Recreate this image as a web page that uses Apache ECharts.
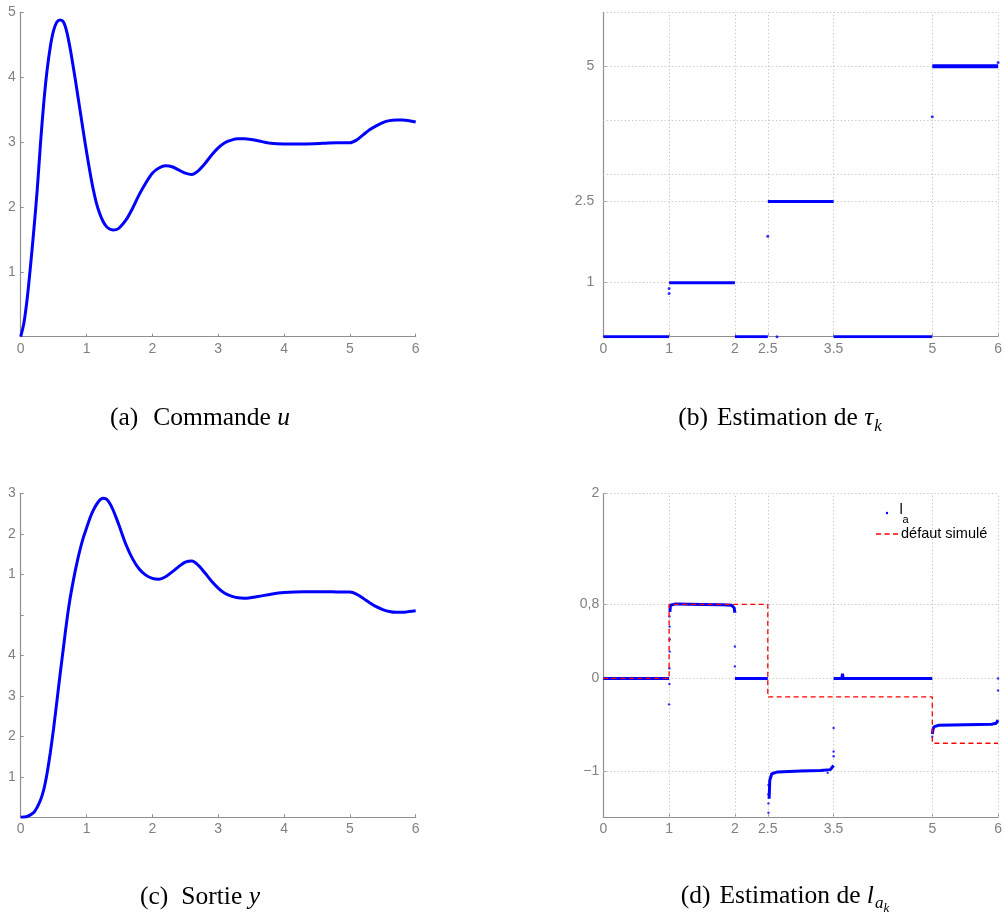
<!DOCTYPE html>
<html>
<head>
<meta charset="utf-8">
<script src="https://cdn.jsdelivr.net/npm/echarts@6/dist/echarts.min.js"></script>
<style>
html, body { margin: 0; padding: 0; background: #fff; }
#main { width: 1005px; height: 918px; }
</style>
</head>
<body>
<div id="main"></div>
<script>
// ---- (a) control signal u(t) ----
const uTime  = [0, 0.05, 0.1, 0.15, 0.2, 0.25, 0.3, 0.35, 0.4, 0.45, 0.5, 0.55, 0.6, 0.65, 0.7, 0.75, 0.8, 0.85, 0.9, 0.95, 1.0, 1.05, 1.1, 1.15, 1.2, 1.25, 1.3, 1.35, 1.4, 1.45, 1.5, 1.6, 1.7, 1.8, 1.9, 2.0, 2.1, 2.2, 2.3, 2.4, 2.5, 2.6, 2.7, 2.8, 2.9, 3.0, 3.1, 3.2, 3.3, 3.4, 3.5, 3.6, 3.8, 4.0, 4.3, 4.6, 4.8, 5.0, 5.1, 5.2, 5.3, 5.4, 5.5, 5.6, 5.7, 5.8, 5.9, 6.0];
const uValue = [0, 0.22, 0.6, 1.1, 1.65, 2.25, 2.97, 3.6, 4.1, 4.47, 4.72, 4.85, 4.88, 4.85, 4.7, 4.45, 4.15, 3.83, 3.5, 3.17, 2.85, 2.55, 2.28, 2.06, 1.9, 1.78, 1.7, 1.66, 1.645, 1.65, 1.68, 1.8, 1.98, 2.19, 2.37, 2.52, 2.6, 2.635, 2.62, 2.57, 2.52, 2.5, 2.56, 2.67, 2.8, 2.91, 2.99, 3.03, 3.05, 3.05, 3.04, 3.02, 2.98, 2.97, 2.97, 2.98, 2.99, 2.99, 3.03, 3.11, 3.19, 3.25, 3.3, 3.33, 3.34, 3.34, 3.33, 3.31];
const uTicksY = [0, 1, 2, 3, 4, 5];
const uTickLabelsY = ['', '1', '2', '3', '4', '5'];

// ---- (c) plant output y(t) ----
const yTime  = [0, 0.1, 0.2, 0.25, 0.3, 0.35, 0.4, 0.45, 0.5, 0.55, 0.6, 0.65, 0.7, 0.75, 0.8, 0.85, 0.9, 0.95, 1.0, 1.05, 1.1, 1.15, 1.2, 1.25, 1.3, 1.35, 1.4, 1.45, 1.5, 1.6, 1.7, 1.8, 1.9, 2.0, 2.1, 2.2, 2.3, 2.4, 2.5, 2.6, 2.7, 2.8, 2.9, 3.0, 3.1, 3.2, 3.3, 3.4, 3.6, 3.8, 4.0, 4.3, 4.6, 4.8, 5.0, 5.1, 5.2, 5.3, 5.4, 5.5, 5.6, 5.7, 5.8, 5.9, 6.0];
const yValue = [0, 0.02, 0.12, 0.25, 0.42, 0.68, 1.08, 1.6, 2.2, 2.87, 3.55, 4.2, 4.85, 5.4, 5.85, 6.25, 6.6, 6.9, 7.14, 7.38, 7.57, 7.72, 7.83, 7.88, 7.86, 7.76, 7.6, 7.4, 7.18, 6.73, 6.38, 6.13, 5.98, 5.9, 5.88, 5.94, 6.06, 6.19, 6.3, 6.33, 6.22, 6.03, 5.83, 5.66, 5.53, 5.46, 5.42, 5.41, 5.45, 5.51, 5.55, 5.57, 5.57, 5.565, 5.56, 5.51, 5.41, 5.3, 5.2, 5.13, 5.08, 5.06, 5.06, 5.08, 5.1];
const yTicksY = [0, 1, 2, 3, 4, 5, 6, 7, 8];
const yTickLabelsY = ['', '1', '2', '3', '4', '', '1', '2', '3'];

// ---- (b) delay estimate tau_k (piecewise constant) ----
const tauStart = [0, 1, 2, 2.5, 3.5, 5];
const tauEnd   = [1, 2, 2.5, 3.5, 5, 6];
const tauLevel = [0, 1, 0, 2.5, 0, 5];
const tauStrayX = [1.0, 1.0, 2.5, 2.64, 5.0, 6.0];
const tauStrayY = [0.89, 0.8, 1.86, 0, 4.07, 5.07];
const tauTicksY = [1, 2.5, 5];
const tauGridY  = [1, 2.5, 3, 4, 5, 6];

// ---- shared x ticks of (b) and (d) ----
const stepTicksX = [0, 1, 2, 2.5, 3.5, 5, 6];
const stepGridX  = [1, 2, 2.5, 3.5, 5, 6];

// ---- (d) estimate l_a and simulated fault ----
const faultTime  = [0, 1, 1, 2.5, 2.5, 5, 5, 6];
const faultValue = [0, 0, 0.8, 0.8, -0.2, -0.2, -0.7, -0.7];
const laTime1 = [0, 1];
const laValue1 = [0, 0];
const laTime2 = [1.012, 1.02, 1.03, 1.1, 1.5, 1.8, 1.95, 1.98, 1.99, 2.0];
const laValue2 = [0.72, 0.79, 0.805, 0.805, 0.8, 0.795, 0.79, 0.78, 0.76, 0.71];
const laTime3 = [2, 2.5];
const laValue3 = [0, 0];
const laTime4 = [2.52, 2.53, 2.56, 2.65, 3.0, 3.3, 3.45, 3.48, 3.5];
const laValue4 = [-1.3, -1.1, -1.03, -1.01, -1.0, -0.995, -0.985, -0.97, -0.94];
const laTime5 = [3.5, 3.625, 3.635, 3.645, 5];
const laValue5 = [0, 0, 0.05, 0, 0];
const laTime6 = [5.0, 5.01, 5.03, 5.1, 5.5, 5.9, 5.97, 6.0];
const laValue6 = [-0.6, -0.55, -0.52, -0.505, -0.5, -0.495, -0.485, -0.45];
const laStrayX = [1.005, 1.008, 1.01, 1.01, 1.005, 1.005, 1.0, 2.0, 2.0, 2.51, 2.51, 2.51, 2.51, 3.41, 3.5, 3.5, 3.5, 5.0, 6.0, 6.0];
const laStrayY = [0.67, 0.56, 0.42, 0.29, 0.11, -0.06, -0.28, 0.345, 0.13, -1.15, -1.25, -1.35, -1.45, -1.02, -0.535, -0.79, -0.84, -0.63, 0, -0.13];
const laTicksY = [-1, 0, 0.8, 2];
const laTickLabelsY = ['\u22121', '0', '0,8', '2'];

const BLUE = '#0000ff';
const RED = '#ff0000';
const AXIS_GREY = '#8f8f8f';
const LABEL_GREY = '#808080';
const GRID_GREY = '#c4c4c4';
const SANS = '"Liberation Sans", Arial, sans-serif';
const SERIF = '"Liberation Serif", serif';
const TICK_FS = 14;

const zip = (xs, ys) => xs.map((x, i) => [x, ys[i]]);

function tickLabel(extra) {
  return Object.assign({ color: LABEL_GREY, fontSize: TICK_FS, fontFamily: SANS, margin: 5 }, extra || {});
}

function baseAxis(extra) {
  return Object.assign({
    type: 'value',
    axisLine: { show: true, onZero: false, lineStyle: { color: AXIS_GREY, width: 1.2 } },
    axisTick: { show: true, inside: true, length: 3, lineStyle: { color: AXIS_GREY } },
    axisLabel: tickLabel(),
    splitLine: { show: false }
  }, extra);
}

function labelsFrom(values, labels) {
  return v => {
    const i = values.findIndex(t => Math.abs(t - v) < 1e-9);
    return i >= 0 ? labels[i] : '';
  };
}

const grids = [
  { left: 20.7, top: 12.3, width: 395, height: 324.4 },   // (a)
  { left: 603.3, top: 12.3, width: 395.7, height: 324.4 }, // (b)
  { left: 20.7, top: 493.3, width: 395, height: 324 },    // (c)
  { left: 603.3, top: 493.3, width: 395.7, height: 324 }  // (d)
];

const xAxes = [0, 1, 2, 3].map(g => {
  const stepped = (g === 1 || g === 3);
  const ax = baseAxis({ gridIndex: g, min: 0, max: 6 });
  if (stepped) {
    ax.axisLabel = tickLabel({ customValues: stepTicksX, formatter: v => String(v) });
    ax.axisTick = Object.assign({}, ax.axisTick, { customValues: stepTicksX });
  } else {
    ax.interval = 1;
  }
  return ax;
});

const yAxes = [
  baseAxis({ gridIndex: 0, min: 0, max: 5, interval: 1,
    axisLabel: tickLabel({ margin: 5, formatter: labelsFrom(uTicksY, uTickLabelsY) }) }),
  baseAxis({ gridIndex: 1, min: 0, max: 6,
    axisLabel: tickLabel({ margin: 9, customValues: tauTicksY, formatter: v => String(v) }),
    axisTick: { show: true, inside: true, length: 3, lineStyle: { color: AXIS_GREY }, customValues: tauTicksY } }),
  baseAxis({ gridIndex: 2, min: 0, max: 8, interval: 1,
    axisLabel: tickLabel({ margin: 5, formatter: labelsFrom(yTicksY, yTickLabelsY) }) }),
  baseAxis({ gridIndex: 3, min: -1.5, max: 2,
    axisLabel: tickLabel({ margin: 4, customValues: laTicksY, formatter: labelsFrom(laTicksY, laTickLabelsY) }),
    axisTick: { show: true, inside: true, length: 3, lineStyle: { color: AXIS_GREY }, customValues: laTicksY } })
];

// dotted grid for the step plots, drawn as mark lines on an empty helper series
function gridHelper(idx, gx, gy) {
  return {
    type: 'line', xAxisIndex: idx, yAxisIndex: idx, data: [], symbol: 'none', silent: true, z: 1,
    markLine: {
      silent: true, symbol: 'none', animation: false, z: 1,
      label: { show: false },
      emphasis: { disabled: true },
      lineStyle: { color: GRID_GREY, type: [1.2, 2.4], width: 1 },
      data: gx.map(v => ({ xAxis: v })).concat(gy.map(v => ({ yAxis: v })))
    }
  };
}

function curve(idx, xs, ys, width) {
  return {
    type: 'line', xAxisIndex: idx, yAxisIndex: idx, data: zip(xs, ys),
    symbol: 'none', smooth: 0.3, z: 10,
    lineStyle: { color: BLUE, width: width }
  };
}

function flat(idx, xs, ys, width) {
  return {
    type: 'line', xAxisIndex: idx, yAxisIndex: idx, data: zip(xs, ys),
    symbol: 'none', z: 10, lineStyle: { color: BLUE, width: width }
  };
}

function dots(idx, xs, ys, size) {
  return {
    type: 'scatter', xAxisIndex: idx, yAxisIndex: idx, data: zip(xs, ys),
    symbol: 'circle', symbolSize: size, z: 11, itemStyle: { color: BLUE }
  };
}

const series = [
  gridHelper(1, stepGridX, tauGridY),
  gridHelper(3, stepGridX, laTicksY),
  curve(0, uTime, uValue, 3),
  curve(2, yTime, yValue, 3)
];
tauStart.forEach((s, i) => {
  series.push(flat(1, [s, tauEnd[i]], [tauLevel[i], tauLevel[i]], i === 5 ? 4 : 3));
});
series.push(dots(1, tauStrayX, tauStrayY, 3));

series.push({
  type: 'line', xAxisIndex: 3, yAxisIndex: 3, data: zip(faultTime, faultValue),
  symbol: 'none', z: 12, lineStyle: { color: RED, width: 1.3, type: [5, 3.5] }
});
[[laTime1, laValue1], [laTime2, laValue2], [laTime3, laValue3], [laTime4, laValue4], [laTime5, laValue5], [laTime6, laValue6]]
  .forEach(p => series.push(flat(3, p[0], p[1], 3)));
series.push(dots(3, laStrayX, laStrayY, 2.4));

// ---- captions and legend, laid out as text pieces ----
const measureCtx = document.createElement('canvas').getContext('2d');
function fontOf(p) {
  return (p.italic ? 'italic ' : '') + p.size + 'px ' + p.family;
}
function textRun(cx, baseline, parts) {
  let total = 0;
  parts.forEach(p => {
    measureCtx.font = fontOf(p);
    p.w = p.text ? measureCtx.measureText(p.text).width : 0;
    total += p.w + (p.gap || 0);
  });
  let x = cx - total / 2;
  const out = [];
  parts.forEach(p => {
    if (p.text) {
      out.push({
        type: 'text', x: x, y: baseline + (p.dy || 0) - 0.34 * p.size, silent: true,
        style: { text: p.text, font: fontOf(p), fill: '#000', align: 'left', verticalAlign: 'middle' }
      });
    }
    x += p.w + (p.gap || 0);
  });
  return out;
}
const CS = 25.5, SUB = 17, SUBSUB = 13;
const cap = (text, extra) => Object.assign({ text: text, size: CS, family: SERIF }, extra || {});

const graphics = []
  .concat(textRun(200, 427, [cap('(a)', { gap: 15 }), cap('Commande '), cap('u', { italic: true })]))
  .concat(textRun(780, 427, [cap('(b)', { gap: 9 }), cap('Estimation de '), cap('\u03c4', { italic: true, gap: 1 }), cap('k', { italic: true, size: SUB, dy: 5 })]))
  .concat(textRun(200, 906, [cap('(c)', { gap: 13 }), cap('Sortie '), cap('y', { italic: true })]))
  .concat(textRun(785, 905, [cap('(d)', { gap: 9 }), cap('Estimation de '), cap('l', { italic: true, gap: 1 }), cap('a', { italic: true, size: SUB, dy: 4 }), cap('k', { italic: true, size: SUBSUB, dy: 8 })]));

// legend of (d)
graphics.push({ type: 'circle', shape: { cx: 887, cy: 513, r: 1.2 }, style: { fill: BLUE }, silent: true });
graphics.push({ type: 'text', x: 899.5, y: 510, silent: true,
  style: { text: 'l', font: '15px ' + SANS, fill: '#000', align: 'left', verticalAlign: 'middle' } });
graphics.push({ type: 'text', x: 902.5, y: 519.5, silent: true,
  style: { text: 'a', font: '11px ' + SANS, fill: '#000', align: 'left', verticalAlign: 'middle' } });
graphics.push({ type: 'line', shape: { x1: 876, y1: 534, x2: 899, y2: 534 }, silent: true,
  style: { stroke: RED, lineWidth: 1.3, lineDash: [5, 3.5] } });
graphics.push({ type: 'text', x: 901, y: 534, silent: true,
  style: { text: 'défaut simulé', font: '14.5px ' + SANS, fill: '#000', align: 'left', verticalAlign: 'middle' } });

const chart = echarts.init(document.getElementById('main'), null, { renderer: 'canvas' });
chart.setOption({
  animation: false,
  backgroundColor: '#fff',
  grid: grids,
  xAxis: xAxes,
  yAxis: yAxes,
  series: series,
  graphic: graphics
});
</script>
</body>
</html>
